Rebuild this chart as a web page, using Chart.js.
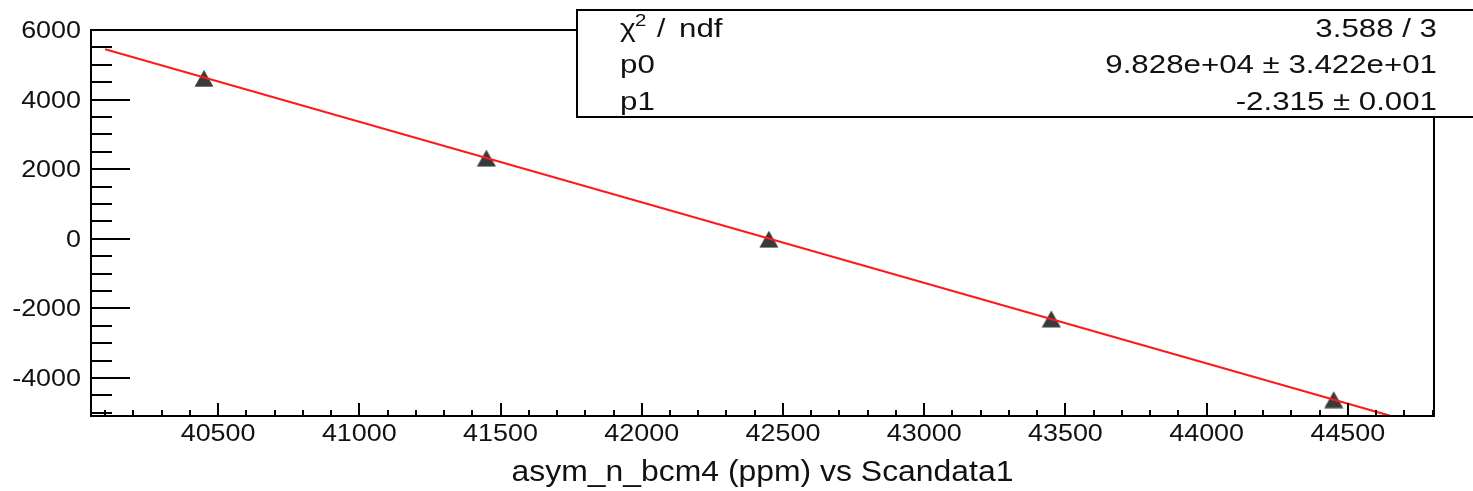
<!DOCTYPE html>
<html>
<head>
<meta charset="utf-8">
<script src="https://cdn.jsdelivr.net/npm/chart.js@4"></script>
<style>
  body { margin: 0; background: #fff; }
  canvas { display: block; }
</style>
</head>
<body>
<canvas id="myChart" width="1473" height="491"></canvas>
<script>
// scan points: asym_n_bcm4 vs Scandata1
const scanX = [40450, 41450, 42450, 43450, 44450]
const asymY = [4610, 2320, -10, -2300, -4620]

// linear fit  y = p0 + p1 * x
const p0 = 9.828e4
const p1 = -2.315
const fitRange = [40100, 44650]

// axis ticks
const xTicks = [40500, 41000, 41500, 42000, 42500, 43000, 43500, 44000, 44500]
const yTicks = [-4000, -2000, 0, 2000, 4000, 6000]
const xMinor = 100
const yMinor = 500

// stat box rows
const statLabels = ["ndf", "p0", "p1"]
const statValues = ["3.588 / 3", "9.828e+04 \u00b1 3.422e+01", "-2.315 \u00b1 0.001"]
const xTitle = "asym_n_bcm4 (ppm) vs Scandata1"

const fitLine = fitRange.map((x) => {
  return { x: x, y: p0 + p1 * x }
})
const points = scanX.map((x, i) => {
  return { x: x, y: asymY[i] }
})

const FONT = "'Liberation Sans', Arial, Helvetica, sans-serif"

// ROOT-like up triangle, centred on its bounding box
const tri = document.createElement("canvas")
tri.width = 20
tri.height = 18
const tctx = tri.getContext("2d")
tctx.fillStyle = "#3a3a3a"
tctx.beginPath()
tctx.moveTo(0.5, 17.5)
tctx.lineTo(19.5, 17.5)
tctx.lineTo(10, 0.5)
tctx.closePath()
tctx.fill()

function stretchText(ctx, txt, x, y, align, size, sx) {
  ctx.save()
  ctx.font = size + "px " + FONT
  ctx.textAlign = align
  ctx.translate(x, y)
  ctx.scale(sx, 1)
  ctx.fillText(txt, 0, 0)
  ctx.restore()
}

// draws the frame, inward ticks, labels and the fit box
const rootFrame = {
  id: "rootFrame",
  afterDraw(chart) {
    const ctx = chart.ctx
    const a = chart.chartArea
    const xs = chart.scales.x
    const ys = chart.scales.y
    ctx.save()
    ctx.strokeStyle = "#000"
    ctx.fillStyle = "#000"
    ctx.lineWidth = 2
    ctx.strokeRect(a.left, a.top, a.right - a.left, a.bottom - a.top)

    // x ticks
    ctx.beginPath()
    for (let v = Math.ceil(xs.min / xMinor) * xMinor; v <= xs.max; v += xMinor) {
      const px = Math.round(xs.getPixelForValue(v))
      const len = v % 500 === 0 ? 13 : 6
      ctx.moveTo(px, a.bottom)
      ctx.lineTo(px, a.bottom - len)
    }
    // y ticks
    for (let v = Math.ceil(ys.min / yMinor) * yMinor; v <= ys.max; v += yMinor) {
      const py = Math.round(ys.getPixelForValue(v))
      const len = v % 2000 === 0 ? 39 : 21
      ctx.moveTo(a.left, py)
      ctx.lineTo(a.left + len, py)
    }
    ctx.stroke()

    ctx.fillStyle = "#111"
    ctx.textBaseline = "alphabetic"
    xTicks.forEach((v) => {
      stretchText(ctx, String(v), xs.getPixelForValue(v), a.bottom + 25, "center", 23, 1.17)
    })
    yTicks.forEach((v) => {
      stretchText(ctx, String(v), 81, ys.getPixelForValue(v) + 8, "right", 23, 1.17)
    })
    stretchText(ctx, xTitle, (a.left + a.right) / 2, 481, "center", 29, 1.1)

    // fit statistics box
    ctx.fillStyle = "#fff"
    ctx.fillRect(577, 10, 910, 107)
    ctx.strokeRect(577, 10, 910, 107)
    ctx.fillStyle = "#111"
    const rows = [37, 73, 110]
    stretchText(ctx, "\u03c7", 620, rows[0], "left", 25, 1.2)
    stretchText(ctx, "2", 635, rows[0] - 11, "left", 17, 1.2)
    stretchText(ctx, "/", 657, rows[0], "left", 25, 1.2)
    stretchText(ctx, statLabels[0], 679, rows[0], "left", 25, 1.25)
    stretchText(ctx, statLabels[1], 620, rows[1], "left", 25, 1.25)
    stretchText(ctx, statLabels[2], 620, rows[2], "left", 25, 1.25)
    statValues.forEach((s, i) => {
      stretchText(ctx, s, 1437, rows[i], "right", 25, 1.25)
    })
    ctx.restore()
  },
}

const ctx = document.getElementById("myChart")

new Chart(ctx, {
  type: "scatter",
  data: {
    datasets: [
      {
        type: "line",
        label: "fit",
        data: fitLine,
        borderColor: "#ff1a1a",
        borderWidth: 2,
        pointRadius: 0,
        order: 0,
      },
      {
        label: "scan",
        data: points,
        pointStyle: tri,
        pointRadius: 10,
        order: 1,
      },
    ],
  },
  options: {
    responsive: false,
    devicePixelRatio: 1,
    animation: false,
    layout: {
      padding: { left: 91, top: 30, right: 39, bottom: 75 },
    },
    plugins: {
      legend: { display: false },
      tooltip: { enabled: false },
    },
    scales: {
      x: { type: "linear", min: 40050, max: 44805, display: false },
      y: { type: "linear", min: -5090, max: 6000, display: false },
    },
  },
  plugins: [rootFrame],
})
</script>
</body>
</html>
